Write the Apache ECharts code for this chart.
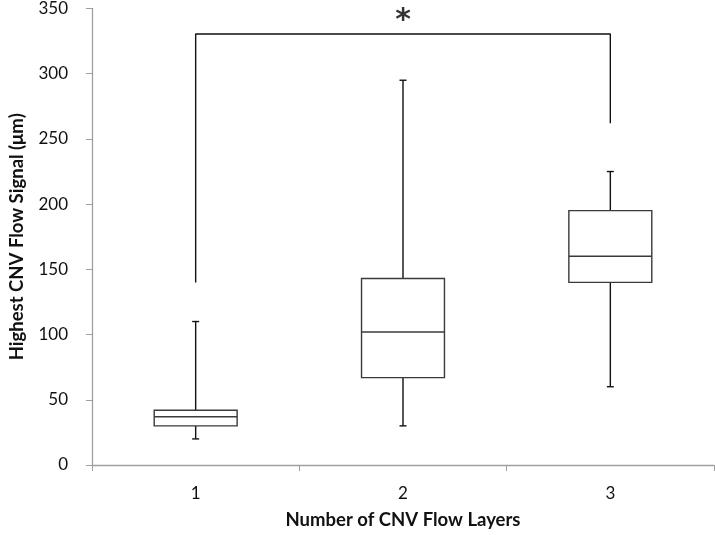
<!DOCTYPE html>
<html>
<head>
<meta charset="utf-8">
<script src="https://cdn.jsdelivr.net/npm/echarts@6/dist/echarts.min.js"></script>
<style>
html,body{margin:0;padding:0;background:#fff;}
#chart{width:715px;height:535px;}
</style>
</head>
<body>
<div id="chart"></div>
<script>
// ---- data ----
const categories = ['1', '2', '3'];
// [min, q1, median, q3, max]
const boxMin    = [20, 30, 60];
const boxQ1     = [30, 67, 140];
const boxMedian = [37, 102, 160];
const boxQ3     = [42, 143, 195];
const boxMax    = [110, 295, 225];
const yTicks = [0, 50, 100, 150, 200, 250, 300, 350];
// significance bracket: from group 1 to group 3
const bracketX = [0, 0, 2, 2];
const bracketY = [140, 330.5, 330.5, 262];
const starLabel = '*';
const starPos = [1, 340];

const FONT = 'Lato';
const chart = echarts.init(document.getElementById('chart'), null, {renderer: 'canvas'});

const boxData = categories.map((c, i) => [i, boxMin[i], boxQ1[i], boxMedian[i], boxQ3[i], boxMax[i]]);
const bracketData = bracketX.map((x, i) => [x, bracketY[i]]);

const lineCol = '#3a3a3a';

chart.setOption({
  animation: false,
  backgroundColor: '#ffffff',
  grid: {left: 89, right: 1, top: 6, bottom: 67, containLabel: false},
  xAxis: {
    type: 'category',
    data: categories,
    boundaryGap: true,
    name: 'Number of CNV Flow Layers',
    nameLocation: 'middle',
    nameGap: 46,
    nameTextStyle: {fontFamily: FONT, fontWeight: 'bold', fontSize: 18.5, color: '#111'},
    axisLine: {lineStyle: {color: '#a0a0a0', width: 1.3}},
    axisTick: {show: true, alignWithLabel: false, length: 6, lineStyle: {color: '#a0a0a0'}},
    axisLabel: {fontFamily: FONT, fontSize: 17, color: '#111', margin: 20}
  },
  yAxis: {
    type: 'value',
    min: yTicks[0],
    max: yTicks[yTicks.length - 1],
    interval: 50,
    name: 'Highest CNV Flow Signal (μm)',
    nameLocation: 'middle',
    nameGap: 65,
    nameTextStyle: {fontFamily: FONT, fontWeight: 'bold', fontSize: 18.5, color: '#111'},
    axisLine: {show: true, lineStyle: {color: '#a0a0a0', width: 1.3}},
    axisTick: {show: true, inside: false, length: 6, lineStyle: {color: '#a0a0a0'}},
    splitLine: {show: false},
    axisLabel: {fontFamily: FONT, fontSize: 17, color: '#111', margin: 24}
  },
  series: [
    {
      type: 'custom',
      data: boxData,
      encode: {x: 0, y: [1, 2, 3, 4, 5]},
      renderItem: function (params, api) {
        const xi = api.value(0);
        const pMin = api.coord([xi, api.value(1)]);
        const pQ1 = api.coord([xi, api.value(2)]);
        const pMed = api.coord([xi, api.value(3)]);
        const pQ3 = api.coord([xi, api.value(4)]);
        const pMax = api.coord([xi, api.value(5)]);
        const bw = api.size([1, 0])[0] * 0.4;
        const cx = pMed[0];
        const capHalf = 3.5;
        const st = {stroke: lineCol, lineWidth: 1.4, fill: null};
        return {
          type: 'group',
          children: [
            {type: 'line', shape: {x1: cx, y1: pMax[1], x2: cx, y2: pQ3[1]}, style: {stroke: '#111', lineWidth: 1.4}},
            {type: 'line', shape: {x1: cx, y1: pQ1[1], x2: cx, y2: pMin[1]}, style: {stroke: '#111', lineWidth: 1.4}},
            {type: 'line', shape: {x1: cx - capHalf, y1: pMax[1], x2: cx + capHalf, y2: pMax[1]}, style: {stroke: '#111', lineWidth: 1.4}},
            {type: 'line', shape: {x1: cx - capHalf, y1: pMin[1], x2: cx + capHalf, y2: pMin[1]}, style: {stroke: '#111', lineWidth: 1.4}},
            {type: 'rect', shape: {x: cx - bw / 2, y: pQ3[1], width: bw, height: pQ1[1] - pQ3[1]}, style: {stroke: lineCol, lineWidth: 1.4, fill: '#fff'}},
            {type: 'line', shape: {x1: cx - bw / 2, y1: pMed[1], x2: cx + bw / 2, y2: pMed[1]}, style: st}
          ]
        };
      }
    },
    {
      type: 'line',
      data: bracketData,
      symbol: 'none',
      lineStyle: {color: '#111', width: 1.4},
      z: 3
    },
    {
      type: 'scatter',
      data: [starPos],
      symbolSize: 0,
      label: {
        show: true,
        position: 'inside',
        formatter: starLabel,
        fontFamily: 'DejaVu Sans',
        fontWeight: 'bold',
        fontSize: 30,
        color: '#000'
      }
    }
  ]
});
</script>
</body>
</html>
